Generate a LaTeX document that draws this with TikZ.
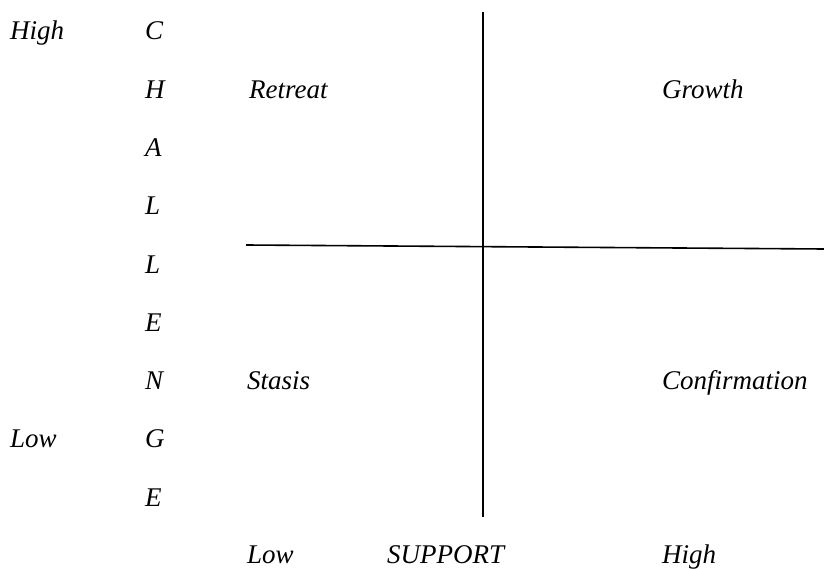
\documentclass[tikz,border=0pt]{standalone}
\usepackage{fontspec}
\setmainfont{Liberation Serif}
\begin{document}
\begin{tikzpicture}[x=1pt,y=-1pt,
  lbl/.style={anchor=base west,inner sep=0pt,font=\fontsize{27}{29}\selectfont\itshape},
  axisline/.style={line width=1.6pt,black}]
\useasboundingbox (0,0) rectangle (824,569);
% axes
\coordinate (vt) at (483,12);
\coordinate (vb) at (483,517);
\coordinate (hl) at (246,245);
\coordinate (hr) at (824,249);
\draw[axisline] (vt) -- (vb);
\draw[axisline] (hl) -- (hr);
% vertical word CHALLENGE
\node[lbl] (c1) at (145,40) {C};
\node[lbl] (c2) at (145,98.25) {H};
\node[lbl] (c3) at (145,156.5) {A};
\node[lbl] (c4) at (145,214.75) {L};
\node[lbl] (c5) at (145,273) {L};
\node[lbl] (c6) at (145,331.25) {E};
\node[lbl] (c7) at (145,389.5) {N};
\node[lbl] (c8) at (145,447.75) {G};
\node[lbl] (c9) at (145,506) {E};
% challenge scale
\node[lbl] (chigh) at (10,40) {High};
\node[lbl] (clow) at (10,447.75) {Low};
% quadrants
\node[lbl] (retreat) at (249,98.25) {Retreat};
\node[lbl] (growth) at (662,98.25) {Growth};
\node[lbl] (stasis) at (247,389.5) {Stasis};
\node[lbl] (confirm) at (662,389.5) {Confirmation};
% support scale
\node[lbl] (slow) at (247,563) {Low};
\node[lbl] (support) at (387,563) {SUPPORT};
\node[lbl] (shigh) at (662,563) {High};
\end{tikzpicture}
\end{document}
